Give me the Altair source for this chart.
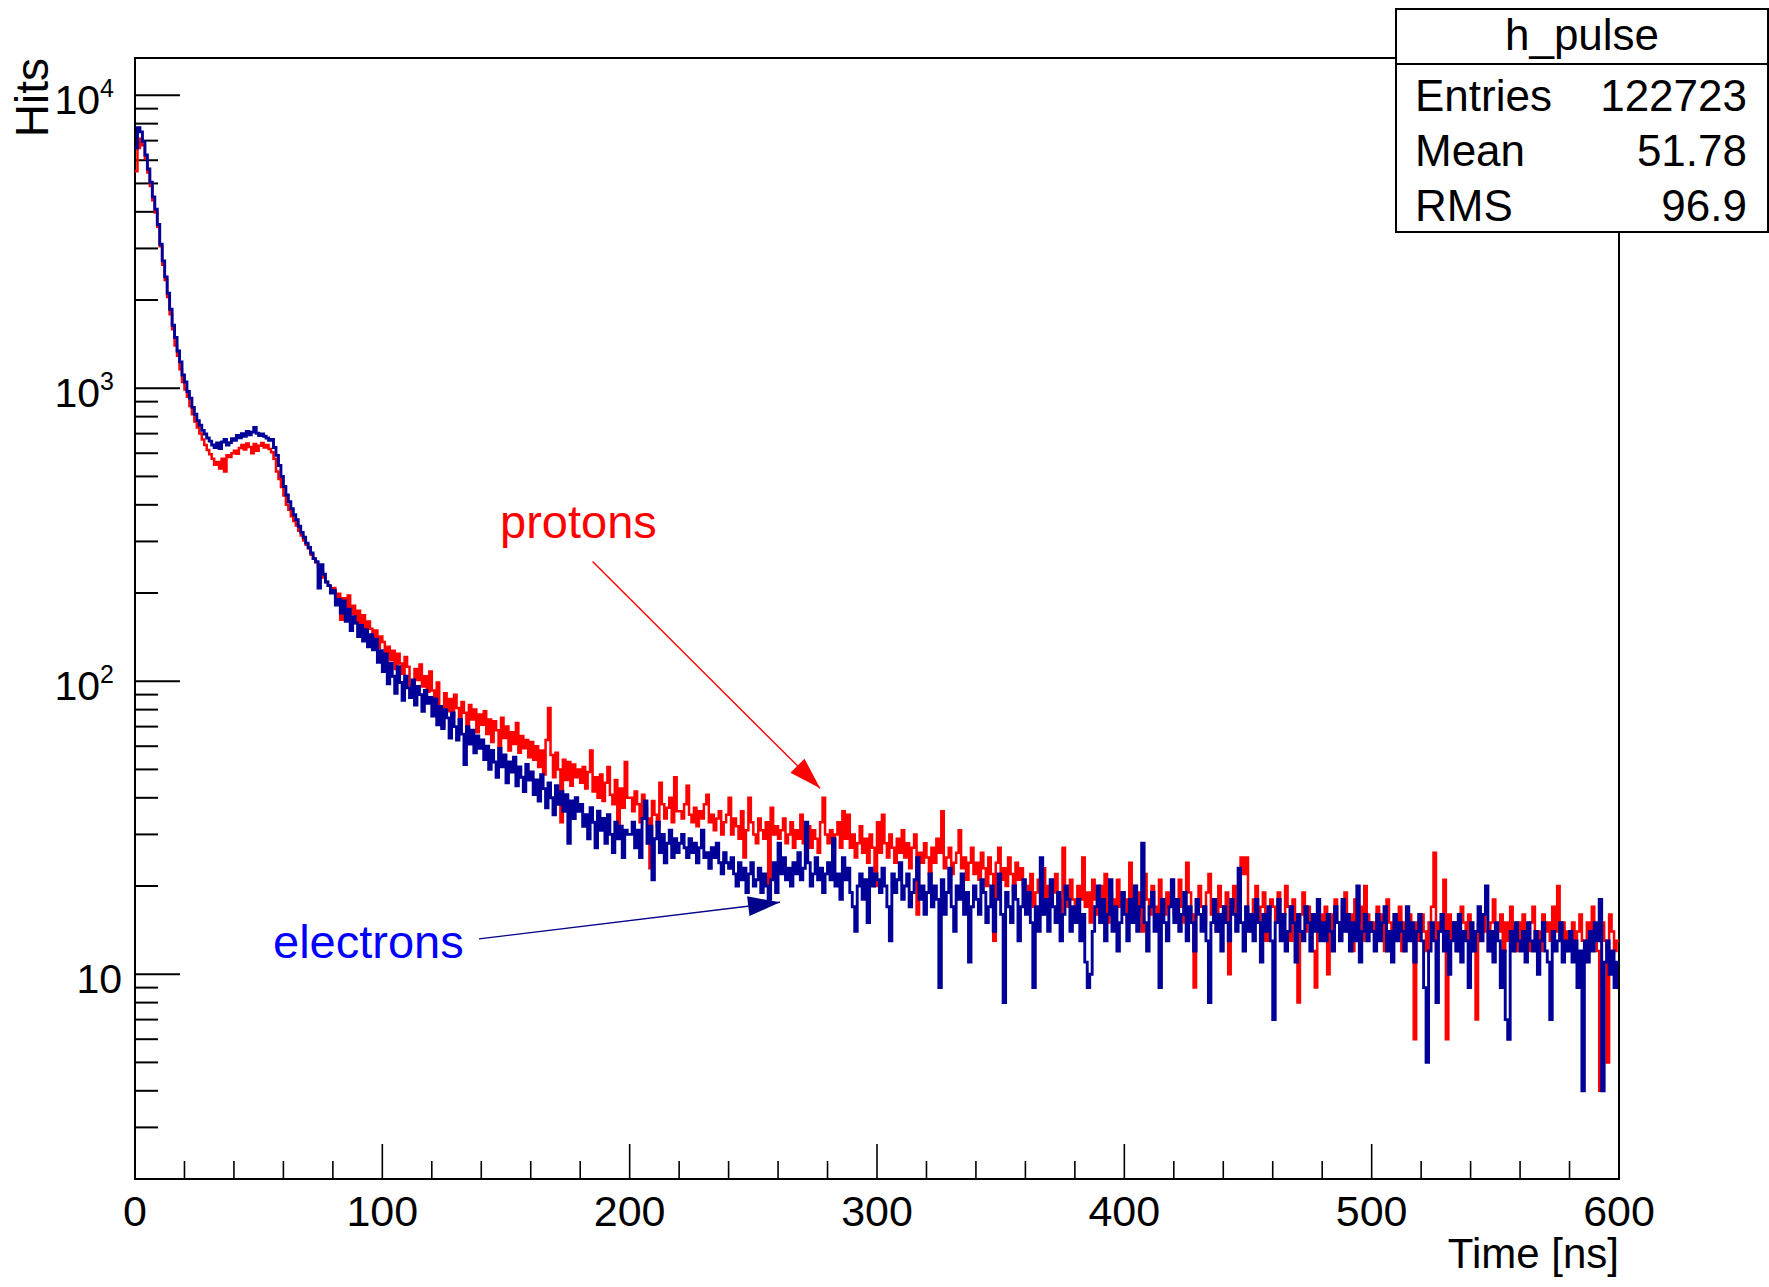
import altair as alt
import pandas as pd

# ---- histogram contents, 1 ns bins from 0 to 600 ns ----
electrons = [
    6600, 7750, 7500, 6950, 6250, 5600, 5050, 4500, 4080, 3620, 3100, 2720, 2400, 2110, 1860, 1640, 1490, 1340, 1230, 1110,
    1050, 975, 925, 860, 815, 775, 748, 718, 698, 676, 660, 640, 628, 650, 622, 655, 668, 640, 652, 672,
    664, 690, 678, 700, 686, 712, 694, 708, 735, 702, 690, 698, 686, 676, 664, 668, 628, 590, 545, 500,
    462, 432, 410, 388, 370, 356, 338, 322, 310, 296, 286, 274, 262, 256, 208, 250, 232, 218, 212, 200,
    204, 182, 190, 171, 188, 160, 176, 149, 166, 158, 142, 155, 137, 150, 131, 144, 128, 139, 116, 127,
    108, 124, 98, 115, 104, 91, 112, 99, 86, 104, 95, 88, 101, 83, 96, 90, 79, 93, 84, 88,
    76, 87, 71, 82, 69, 80, 75, 64, 78, 70, 63, 74, 66, 52, 70, 61, 68, 57, 65, 59,
    63, 54, 60, 50, 58, 53, 47, 59, 51, 56, 45, 53, 49, 55, 44, 51, 47, 42, 52, 46,
    49, 41, 46, 39, 48, 43, 37, 45, 40, 35, 44, 38, 42, 36, 41, 28, 39, 34, 40, 36,
    38, 32, 35, 29, 37, 33, 27, 36, 31, 34, 28, 35, 30, 26, 33, 29, 32, 25, 31, 30,
    30, 33, 27, 31, 25, 34, 39, 28, 32, 21, 29, 33, 26, 30, 24, 28, 31, 25, 29, 26,
    28, 30, 27, 25, 29, 26, 28, 24, 27, 31, 25, 26, 23, 27, 25, 28, 24, 22, 26, 24,
    23, 25, 22, 20, 24, 21, 23, 19, 22, 24, 20, 21, 23, 19, 22, 20, 18, 21, 24, 19,
    28, 22, 25, 21, 23, 20, 24, 22, 26, 21, 23, 33, 24, 20, 22, 25, 21, 23, 19, 22,
    24, 21, 29, 20, 22, 18, 25, 21, 23, 19, 17, 14, 20, 22, 18, 21, 15, 23, 20, 22,
    21, 19, 23, 20, 17, 13, 22, 19, 21, 24, 18, 20, 22, 17, 19, 21, 25, 18, 20, 16,
    19, 22, 17, 20, 18, 9, 21, 16, 19, 23, 17, 14, 20, 18, 22, 16, 19, 11, 17, 20,
    18, 16, 21, 19, 15, 17, 20, 14, 18, 22, 16, 8, 19, 17, 15, 20, 18, 13, 17, 21,
    16, 19, 15, 9, 17, 14, 25, 16, 18, 14, 21, 17, 15, 19, 13, 16, 20, 18, 14, 17,
    15, 18, 13, 16, 11, 9, 10, 14, 17, 20, 15, 18, 13, 16, 21, 14, 17, 12, 15, 19,
    16, 13, 18, 15, 20, 14, 17, 28, 15, 12, 17, 19, 14, 16, 9, 18, 15, 13, 17, 21,
    15, 18, 14, 16, 19, 13, 17, 15, 12, 18, 16, 14, 17, 13, 8, 15, 18, 14, 16, 12,
    17, 15, 13, 18, 16, 14, 23, 15, 12, 17, 14, 16, 13, 18, 15, 11, 16, 14, 17, 13,
    7, 15, 18, 13, 16, 12, 14, 17, 15, 11, 16, 14, 13, 17, 15, 12, 16, 14, 18, 13,
    15, 13, 16, 14, 12, 17, 15, 13, 18, 14, 16, 12, 15, 13, 20, 11, 14, 16, 13, 15,
    14, 12, 16, 13, 15, 17, 12, 14, 11, 16, 13, 15, 14, 12, 17, 13, 15, 11, 14, 16,
    13, 9, 5, 12, 15, 13, 8, 14, 16, 12, 14, 10, 13, 15, 12, 16, 11, 14, 13, 9,
    15, 12, 14, 17, 13, 16, 20, 12, 14, 11, 15, 13, 9, 12, 7, 6, 14, 12, 15, 13,
    12, 14, 11, 15, 13, 12, 14, 10, 13, 15, 12, 11, 7, 14, 12, 13, 15, 11, 13, 12,
    14, 11, 13, 9, 12, 4, 13, 11, 14, 12, 15, 13, 18, 4, 11, 13, 10, 12, 9, 11,
]

protons = [
    5500, 6600, 7100, 6750, 6100, 5450, 4900, 4380, 3980, 3560, 3050, 2640, 2340, 2050, 1790, 1590, 1400, 1290, 1160, 1050,
    990, 935, 870, 815, 770, 735, 700, 668, 640, 615, 595, 575, 548, 560, 532, 575, 520, 590, 582, 600,
    612, 598, 625, 640, 618, 648, 630, 600, 645, 612, 636, 650, 628, 640, 620, 605, 575, 520, 490, 460,
    430, 400, 385, 366, 352, 340, 326, 314, 302, 292, 284, 270, 262, 254, 245, 236, 226, 218, 212, 206,
    208, 188, 199, 162, 192, 178, 196, 170, 181, 158, 174, 152, 168, 145, 160, 151, 138, 149, 130, 142,
    136, 122, 131, 118, 127, 110, 124, 115, 106, 121, 112, 97, 88, 110, 101, 114, 96, 104, 92, 108,
    93, 85, 99, 82, 70, 91, 79, 87, 76, 90, 81, 72, 85, 78, 69, 83, 74, 80, 67, 77,
    71, 79, 66, 74, 62, 73, 68, 60, 75, 64, 70, 58, 67, 61, 72, 57, 65, 59, 63, 55,
    62, 54, 60, 51, 58, 48, 63, 81, 56, 47, 57, 50, 33, 54, 46, 53, 44, 52, 47, 50,
    45, 51, 43, 49, 58, 42, 47, 40, 48, 39, 45, 51, 41, 38, 46, 31, 43, 37, 53, 40,
    40, 36, 42, 38, 33, 41, 37, 34, 23, 39, 35, 32, 45, 38, 34, 37, 40, 33, 47, 36,
    36, 34, 38, 44, 35, 33, 37, 32, 36, 34, 38, 41, 33, 35, 31, 34, 36, 30, 33, 35,
    40, 30, 34, 32, 29, 36, 25, 31, 40, 33, 30, 28, 34, 31, 29, 33, 19, 37, 30, 32,
    29, 31, 34, 28, 30, 33, 27, 31, 29, 35, 28, 30, 32, 27, 31, 29, 26, 33, 40, 30,
    28, 31, 26, 30, 33, 27, 36, 29, 35, 27, 30, 25, 28, 32, 26, 29, 24, 30, 27, 20,
    33, 26, 35, 28, 25, 30, 27, 24, 29, 26, 31, 25, 28, 23, 27, 30, 16, 26, 24, 28,
    25, 22, 27, 24, 29, 26, 36, 23, 25, 27, 22, 24, 26, 31, 23, 25, 21, 24, 27, 22,
    24, 21, 26, 23, 20, 25, 22, 13, 24, 27, 21, 23, 20, 25, 22, 19, 24, 21, 23, 20,
    20, 18, 22, 17, 19, 21, 16, 23, 18, 20, 17, 19, 22, 18, 16, 27, 19, 17, 21, 18,
    16, 20, 18, 25, 17, 19, 15, 21, 18, 16, 20, 17, 22, 15, 19, 18, 16, 21, 17, 19,
    18, 15, 24, 17, 20, 16, 19, 14, 22, 18, 16, 20, 17, 15, 21, 18, 16, 19, 17, 20,
    16, 18, 21, 17, 15, 24, 19, 16, 9, 18, 20, 17, 15, 19, 22, 16, 18, 14, 20, 17,
    15, 19, 10, 17, 20, 16, 18, 25, 22, 25, 16, 14, 18, 20, 15, 17, 19, 13, 16, 18,
    17, 15, 19, 14, 16, 20, 17, 13, 18, 15, 8, 16, 19, 14, 17, 15, 12, 9, 18, 16,
    15, 17, 10, 16, 14, 18, 15, 13, 17, 19, 14, 16, 12, 18, 15, 17, 13, 20, 16, 14,
    15, 13, 17, 14, 16, 12, 18, 15, 13, 16, 14, 17, 12, 15, 13, 16, 14, 6, 15, 13,
    16, 14, 12, 15, 17, 26, 13, 15, 14, 21, 6, 16, 13, 15, 14, 12, 17, 15, 13, 16,
    14, 12, 7, 15, 13, 16, 14, 12, 15, 18, 13, 14, 16, 12, 15, 13, 17, 14, 12, 15,
    13, 16, 14, 12, 15, 17, 13, 14, 12, 16, 14, 15, 13, 17, 14, 20, 13, 15, 12, 14,
    13, 15, 12, 14, 16, 13, 11, 15, 14, 17, 13, 12, 4, 15, 13, 5, 16, 14, 12, 13,
]

# ---- axis ticks / labels ----
x_major = [0, 100, 200, 300, 400, 500, 600]
x_minor = [20, 40, 60, 80, 120, 140, 160, 180, 220, 240, 260, 280, 320, 340, 360, 380,
           420, 440, 460, 480, 520, 540, 560, 580]
y_major = [10, 100, 1000, 10000]
y_label_base = ["10", "10", "10", "10"]
y_label_exp = ["", "2", "3", "4"]
y_minor = [3, 4, 5, 6, 7, 8, 9, 20, 30, 40, 50, 60, 70, 80, 90,
           200, 300, 400, 500, 600, 700, 800, 900,
           2000, 3000, 4000, 5000, 6000, 7000, 8000, 9000]
x_title = "Time [ns]"
y_title = "Hits"

# ---- stats box ----
stat_title = "h_pulse"
stat_names = ["Entries", "Mean", "RMS"]
stat_values = ["122723", "51.78", "96.9"]

# ---- annotations (data coordinates) ----
ann_text = ["protons", "electrons"]
ann_color = ["#ff0000", "#0000ff"]
ann_t = [147.6, 55.8]
ann_hits = [307.0, 11.4]
arrow_color = ["#ff0000", "#00008b"]
arrow_t0 = [185.0, 139.1]
arrow_h0 = [256.0, 13.2]
arrow_t1 = [277.0, 260.8]
arrow_h1 = [43.1, 17.6]
arrow_angle = [135, 83]

W, H = 1484, 1121
FONT = "Liberation Sans, Arial, Helvetica, sans-serif"

xs = alt.Scale(domain=[0, 600], nice=False, zero=False)
ys = alt.Scale(type="log", domain=[2.0, 13400], nice=False)


def steps(vals):
    n = len(vals)
    return pd.DataFrame({"t": list(range(n)) + [n], "hits": list(vals) + [vals[-1]]})


one = pd.DataFrame({"k": [0]})

frame = alt.Chart(one).mark_rect(fillOpacity=0, stroke="black", strokeWidth=2).encode(
    x=alt.value(0), x2=alt.value(W), y=alt.value(0), y2=alt.value(H)
)

# ticks drawn inside the frame, ROOT style
ymaj = alt.Chart(pd.DataFrame({"v": y_major})).mark_rule(color="black", strokeWidth=2).encode(
    y=alt.Y("v:Q", scale=ys, axis=None), x=alt.value(0), x2=alt.value(45)
)
ymin = alt.Chart(pd.DataFrame({"v": y_minor})).mark_rule(color="black", strokeWidth=2).encode(
    y=alt.Y("v:Q", scale=ys, axis=None), x=alt.value(0), x2=alt.value(23)
)
xmaj = alt.Chart(pd.DataFrame({"v": x_major})).mark_rule(color="black", strokeWidth=1.6).encode(
    x=alt.X("v:Q", scale=xs, axis=None), y=alt.value(H), y2=alt.value(H - 35)
)
xmin = alt.Chart(pd.DataFrame({"v": x_minor})).mark_rule(color="black", strokeWidth=1.6).encode(
    x=alt.X("v:Q", scale=xs, axis=None), y=alt.value(H), y2=alt.value(H - 18)
)

# tick labels and axis titles
xlab = alt.Chart(pd.DataFrame({"v": x_major})).mark_text(
    align="center", baseline="alphabetic", font=FONT, fontSize=43, color="black"
).encode(
    x=alt.X("v:Q", scale=xs, axis=None), y=alt.value(H + 47), text=alt.Text("v:Q", format="d")
)
ylab_df = pd.DataFrame({"v": y_major, "base": y_label_base, "exp": y_label_exp})
ylab_base = alt.Chart(ylab_df).transform_calculate(
    px="datum.exp == '' ? -13 : -35"
).mark_text(
    align="right", baseline="alphabetic", font=FONT, fontSize=41, color="black", dy=19
).encode(
    y=alt.Y("v:Q", scale=ys, axis=None), x=alt.X("px:Q", scale=None, axis=None), text="base:N"
)
ylab_exp = alt.Chart(ylab_df).transform_filter("datum.exp != ''").mark_text(
    align="left", baseline="alphabetic", font=FONT, fontSize=25, color="black", dy=2
).encode(
    y=alt.Y("v:Q", scale=ys, axis=None), x=alt.value(-35), text="exp:N"
)
xtitle = alt.Chart(one).mark_text(
    align="right", baseline="alphabetic", font=FONT, fontSize=42, color="black"
).encode(x=alt.value(W), y=alt.value(H + 89), text=alt.value(x_title))
ytitle = alt.Chart(one).mark_text(
    align="right", baseline="alphabetic", font=FONT, fontSize=46, color="black", angle=270
).encode(x=alt.value(-87), y=alt.value(0), text=alt.value(y_title))

red = alt.Chart(steps(protons)).mark_line(
    interpolate="step-after", color="#ff0000", strokeWidth=2.5
).encode(
    x=alt.X("t:Q", scale=xs, axis=None),
    y=alt.Y("hits:Q", scale=ys, axis=None),
)
blue = alt.Chart(steps(electrons)).mark_line(
    interpolate="step-after", color="#000099", strokeWidth=2.9
).encode(
    x=alt.X("t:Q", scale=xs, axis=None),
    y=alt.Y("hits:Q", scale=ys, axis=None),
)

arrows_df = pd.DataFrame({
    "t0": arrow_t0, "h0": arrow_h0, "t1": arrow_t1, "h1": arrow_h1,
    "c": arrow_color, "ang": arrow_angle,
})
arrow_lines = alt.Chart(arrows_df).mark_rule(strokeWidth=1.4).encode(
    x=alt.X("t0:Q", scale=xs, axis=None), y=alt.Y("h0:Q", scale=ys, axis=None),
    x2="t1:Q", y2="h1:Q", color=alt.Color("c:N", scale=None),
)
arrow_heads = alt.Chart(arrows_df).mark_point(
    shape="M0,0L-0.62,2L0.62,2Z", filled=True, size=1024, opacity=1
).encode(
    x=alt.X("t1:Q", scale=xs, axis=None), y=alt.Y("h1:Q", scale=ys, axis=None),
    angle=alt.Angle("ang:Q", scale=None), color=alt.Color("c:N", scale=None),
)

ann_df = pd.DataFrame({"txt": ann_text, "c": ann_color, "t": ann_t, "h": ann_hits})
ann = alt.Chart(ann_df).mark_text(
    align="left", baseline="alphabetic", font=FONT, fontSize=47
).encode(
    x=alt.X("t:Q", scale=xs, axis=None), y=alt.Y("h:Q", scale=ys, axis=None),
    text="txt:N", color=alt.Color("c:N", scale=None),
)

# stats box (pixel layout relative to plot area)
BX0, BX1, BY0, BY1 = 1261, 1633, -49, 174
box = alt.Chart(one).mark_rect(fill="white", stroke="black", strokeWidth=2).encode(
    x=alt.value(BX0), x2=alt.value(BX1), y=alt.value(BY0), y2=alt.value(BY1)
)
sep = alt.Chart(one).mark_rule(color="black", strokeWidth=2).encode(
    x=alt.value(BX0), x2=alt.value(BX1), y=alt.value(6)
)
title_txt = alt.Chart(one).mark_text(
    align="center", baseline="alphabetic", font=FONT, fontSize=44, color="black"
).encode(x=alt.value((BX0 + BX1) / 2), y=alt.value(-8), text=alt.value(stat_title))

stats_df = pd.DataFrame({"name": stat_names, "val": stat_values, "row": list(range(len(stat_names)))})
stat_base = alt.Chart(stats_df).transform_calculate(py="53 + datum.row * 55")
stat_names_txt = stat_base.mark_text(
    align="left", baseline="alphabetic", font=FONT, fontSize=44, color="black"
).encode(x=alt.value(BX0 + 19), y=alt.Y("py:Q", scale=None, axis=None), text="name:N")
stat_vals_txt = stat_base.mark_text(
    align="right", baseline="alphabetic", font=FONT, fontSize=44, color="black"
).encode(x=alt.value(BX1 - 21), y=alt.Y("py:Q", scale=None, axis=None), text="val:N")

chart = alt.layer(
    frame, ymin, ymaj, xmin, xmaj, xlab, ylab_base, ylab_exp, xtitle, ytitle,
    red, blue, arrow_lines, arrow_heads, ann,
    box, sep, title_txt, stat_names_txt, stat_vals_txt,
).properties(
    width=W, height=H,
    padding={"left": 135, "top": 58, "right": 150, "bottom": 108},
    autosize=alt.AutoSizeParams(type="none"),
    background="white",
).configure_view(strokeWidth=0)

chart.save("out.html", embed_options={"renderer": "svg", "actions": False})
